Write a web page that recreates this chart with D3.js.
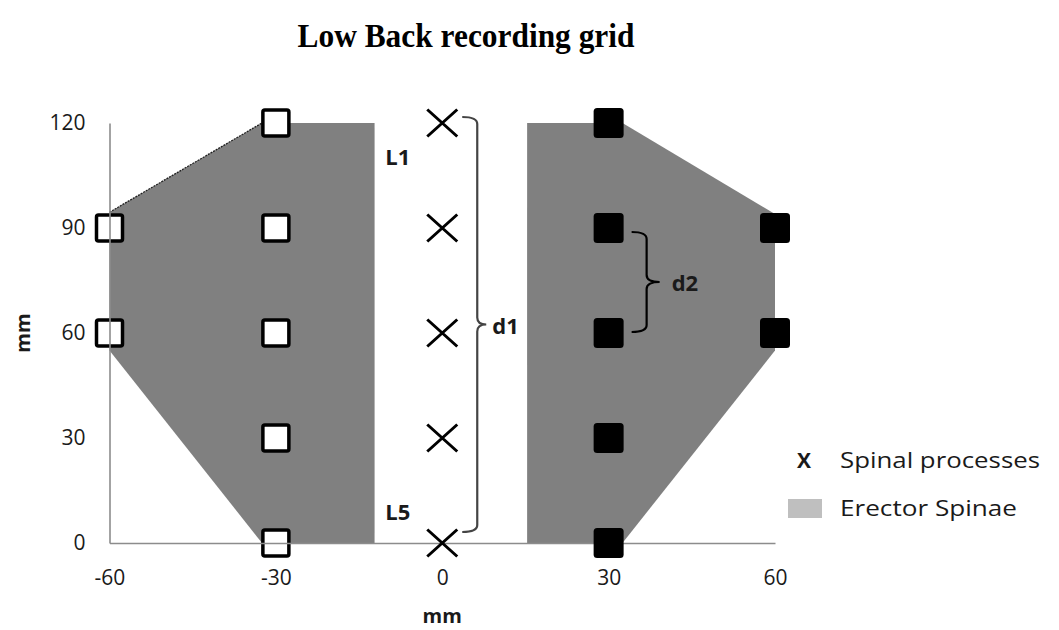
<!DOCTYPE html>
<html>
<head>
<meta charset="utf-8">
<script src="https://cdn.jsdelivr.net/npm/d3@7"></script>
<style>
  body { margin: 0; background: #fff; }
  svg { display: block; }
</style>
</head>
<body>
<div id="chart"></div>
<script>
// data (mm)
const xTicks = [-60, -30, 0, 30, 60];
const yTicks = [0, 30, 60, 90, 120];
const spinalProcesses = [[0, 0], [0, 30], [0, 60], [0, 90], [0, 120]];
const leftElectrodes = [[-30, 0], [-30, 30], [-30, 60], [-30, 90], [-30, 120], [-60, 60], [-60, 90]];
const rightElectrodes = [[30, 0], [30, 30], [30, 60], [30, 90], [30, 120], [60, 60], [60, 90]];
const leftMuscle = [[-60, 94.5], [-32.5, 120], [-12.2, 120], [-12.2, 0], [-32.5, 0], [-60, 55]];
const rightMuscle = [[15.3, 120], [32.5, 120], [60, 94], [60, 55], [32.5, 0], [15.3, 0]];
const legendLabels = ['Spinal processes', 'Erector Spinae'];

const width = 1059, height = 630;
const svg = d3.select('#chart').append('svg')
  .attr('width', width)
  .attr('height', height);

const x = d3.scaleLinear().domain([-60, 60]).range([109.5, 775]);
const y = d3.scaleLinear().domain([0, 120]).range([543, 123]);

const textFont = "'Open Sans', 'DejaVu Sans', sans-serif";
const ink = '#1a1a1a';

// title
svg.append('text')
  .attr('x', 466)
  .attr('y', 47)
  .attr('text-anchor', 'middle')
  .attr('font-family', "'Liberation Serif', 'Times New Roman', serif")
  .attr('font-weight', 'bold')
  .attr('font-size', 33)
  .attr('textLength', 337)
  .attr('lengthAdjust', 'spacingAndGlyphs')
  .attr('fill', '#000')
  .text('Low  Back recording  grid');

// erector spinae regions
const area = d3.line().x(d => x(d[0])).y(d => y(d[1]));
svg.append('g').selectAll('path')
  .data([leftMuscle, rightMuscle])
  .join('path')
  .attr('d', d => area(d) + 'Z')
  .attr('fill', '#808080');

// thin dark edge on the upper-left border
svg.append('path')
  .attr('d', area(leftMuscle.slice(0, 2)))
  .attr('stroke', '#222')
  .attr('stroke-width', 1.3)
  .attr('stroke-dasharray', '2,1')
  .attr('fill', 'none');

// open squares (left side)
const sq = 26;
svg.append('g').selectAll('rect')
  .data(leftElectrodes)
  .join('rect')
  .attr('x', d => x(d[0]) - sq / 2)
  .attr('y', d => y(d[1]) - sq / 2)
  .attr('width', sq)
  .attr('height', sq)
  .attr('rx', 2)
  .attr('fill', '#fff')
  .attr('stroke', '#000')
  .attr('stroke-width', 3.5);

// axes
const xAxis = svg.append('g')
  .attr('transform', `translate(0,${y(0)})`)
  .call(d3.axisBottom(x).tickValues(xTicks).tickFormat(d => String(d)).tickSize(0).tickPadding(27));
const yAxis = svg.append('g')
  .attr('transform', `translate(${x(-60)},0)`)
  .call(d3.axisLeft(y).tickValues(yTicks).tickFormat(d => String(d)).tickSize(0).tickPadding(24));

[xAxis, yAxis].forEach(a => {
  a.select('.domain').attr('stroke', '#8c8c8c').attr('stroke-width', 1.6);
  a.selectAll('text')
    .attr('font-family', textFont)
    .attr('font-size', 21)
    .attr('fill', ink);
});

// filled squares (right side)
const fsq = 30;
svg.append('g').selectAll('rect')
  .data(rightElectrodes)
  .join('rect')
  .attr('x', d => x(d[0]) - fsq / 2)
  .attr('y', d => y(d[1]) - fsq / 2)
  .attr('width', fsq)
  .attr('height', fsq)
  .attr('rx', 3.5)
  .attr('fill', '#000');

// spinal processes
const cx = 15, cy = 13.5;
svg.append('g').selectAll('path')
  .data(spinalProcesses)
  .join('path')
  .attr('d', d => {
    const px = x(d[0]), py = y(d[1]);
    return `M${px - cx},${py - cy}L${px + cx},${py + cy}M${px - cx},${py + cy}L${px + cx},${py - cy}`;
  })
  .attr('stroke', '#000')
  .attr('stroke-width', 3)
  .attr('fill', 'none');

// curly braces
function brace(x0, x1, tip, top, bottom) {
  const r = 7, mid = (top + bottom) / 2;
  return `M${x0},${top}Q${x1},${top} ${x1},${top + r}` +
    `L${x1},${mid - r}Q${x1},${mid} ${tip},${mid}` +
    `Q${x1},${mid} ${x1},${mid + r}` +
    `L${x1},${bottom - r}Q${x1},${bottom} ${x0},${bottom}`;
}

const d1 = { top: y(120) - 6, bottom: y(0) - 11, x0: x(0) + 20 };
svg.append('path')
  .attr('d', brace(d1.x0, d1.x0 + 15, d1.x0 + 24, d1.top, d1.bottom))
  .attr('stroke', '#444')
  .attr('stroke-width', 2.2)
  .attr('fill', 'none');

const d2 = { top: y(90) + 4, bottom: y(60) - 1, x0: x(30) + 23 };
svg.append('path')
  .attr('d', brace(d2.x0, d2.x0 + 15, d2.x0 + 28, d2.top, d2.bottom))
  .attr('stroke', '#000')
  .attr('stroke-width', 2.2)
  .attr('fill', 'none');

// annotation labels
const notes = [
  { t: 'L1', px: x(0) - 57, py: y(120) + 42 },
  { t: 'L5', px: x(0) - 57, py: y(0) - 23 },
  { t: 'd1', px: d1.x0 + 30, py: (d1.top + d1.bottom) / 2 + 9 },
  { t: 'd2', px: d2.x0 + 40, py: (d2.top + d2.bottom) / 2 + 9 }
];
svg.append('g').selectAll('text')
  .data(notes)
  .join('text')
  .attr('x', d => d.px)
  .attr('y', d => d.py)
  .attr('font-family', textFont)
  .attr('font-weight', 'bold')
  .attr('font-size', 22)
  .attr('fill', ink)
  .text(d => d.t);

// axis titles
svg.append('text')
  .attr('x', x(0))
  .attr('y', 623)
  .attr('text-anchor', 'middle')
  .attr('font-family', textFont)
  .attr('font-weight', 'bold')
  .attr('font-size', 20)
  .attr('fill', ink)
  .text('mm');

svg.append('text')
  .attr('transform', `translate(30,${y(60)}) rotate(-90)`)
  .attr('text-anchor', 'middle')
  .attr('font-family', textFont)
  .attr('font-weight', 'bold')
  .attr('font-size', 20)
  .attr('fill', ink)
  .text('mm');

// legend
const legend = svg.append('g');
legend.append('text')
  .attr('x', 804)
  .attr('y', 468)
  .attr('text-anchor', 'middle')
  .attr('font-family', textFont)
  .attr('font-weight', 'bold')
  .attr('font-size', 21)
  .attr('fill', ink)
  .text('X');
legend.append('rect')
  .attr('x', 788)
  .attr('y', 499)
  .attr('width', 34)
  .attr('height', 19)
  .attr('fill', '#bfbfbf');
legend.selectAll('text.lab')
  .data(legendLabels)
  .join('text')
  .attr('class', 'lab')
  .attr('x', 840)
  .attr('y', (d, i) => 468 + i * 48)
  .attr('font-family', textFont)
  .attr('font-size', 21)
  .attr('textLength', (d, i) => i === 0 ? 200 : 177)
  .attr('lengthAdjust', 'spacingAndGlyphs')
  .attr('fill', ink)
  .text(d => d);
</script>
</body>
</html>
